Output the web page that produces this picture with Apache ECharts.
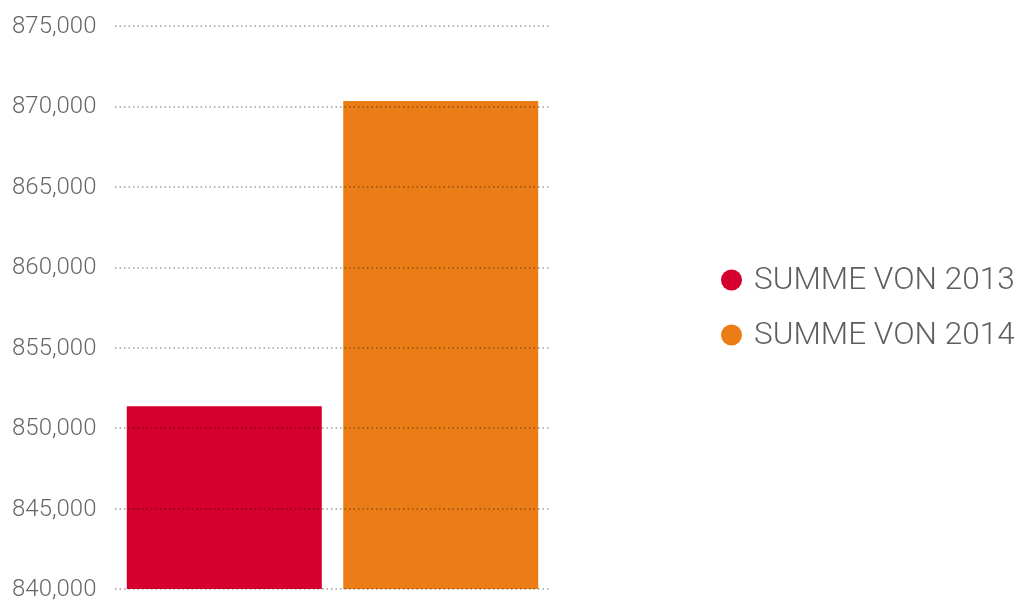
<!DOCTYPE html>
<html>
<head>
<meta charset="utf-8">
<style>
  html, body { margin: 0; padding: 0; background: #fff; }
  #chart { width: 1019px; height: 601px; }
</style>
<script src="https://cdn.jsdelivr.net/npm/echarts@6/dist/echarts.min.js"></script>
</head>
<body>
<div id="chart"></div>
<script>
// Totals per year
const seriesNames = ['SUMME VON 2013', 'SUMME VON 2014'];
const sum2013 = [851360];
const sum2014 = [870340];
const categories = [''];
const seriesColors = ['#D5002D', '#EC7C15'];

const chart = echarts.init(document.getElementById('chart'));
const font = '"Roboto Light", Roboto, "Noto Sans", sans-serif';

chart.setOption({
  animation: false,
  grid: { left: 115, right: 469, top: 26, bottom: 12, containLabel: false },
  legend: {
    orient: 'vertical',
    left: 716,
    top: 259,
    icon: 'circle',
    itemWidth: 21,
    itemHeight: 21,
    itemGap: 23,
    textStyle: { fontFamily: font, fontWeight: 300, fontSize: 31.6, color: '#5e5e5e', padding: [0, 0, 0, 7] },
    data: seriesNames
  },
  xAxis: {
    type: 'category',
    data: categories,
    axisLine: { show: false },
    axisTick: { show: false },
    axisLabel: { show: false }
  },
  yAxis: {
    type: 'value',
    min: 840000,
    max: 875000,
    interval: 5000,
    z: 5,
    axisLine: { show: false },
    axisTick: { show: false },
    axisLabel: {
      margin: 103,
      align: 'left',
      fontFamily: font,
      fontWeight: 300,
      fontSize: 24,
      color: '#666',
      formatter: v => v.toLocaleString('en-US')
    },
    splitLine: {
      lineStyle: { color: 'rgba(0,0,0,0.38)', width: 1.5, type: [1.5, 3] }
    }
  },
  series: [
    {
      name: seriesNames[0],
      type: 'bar',
      z: 2,
      data: sum2013,
      barWidth: 195,
      barGap: '11%',
      itemStyle: { color: seriesColors[0] }
    },
    {
      name: seriesNames[1],
      type: 'bar',
      z: 2,
      data: sum2014,
      barWidth: 195,
      barGap: '11%',
      itemStyle: { color: seriesColors[1] }
    }
  ]
});
</script>
</body>
</html>
